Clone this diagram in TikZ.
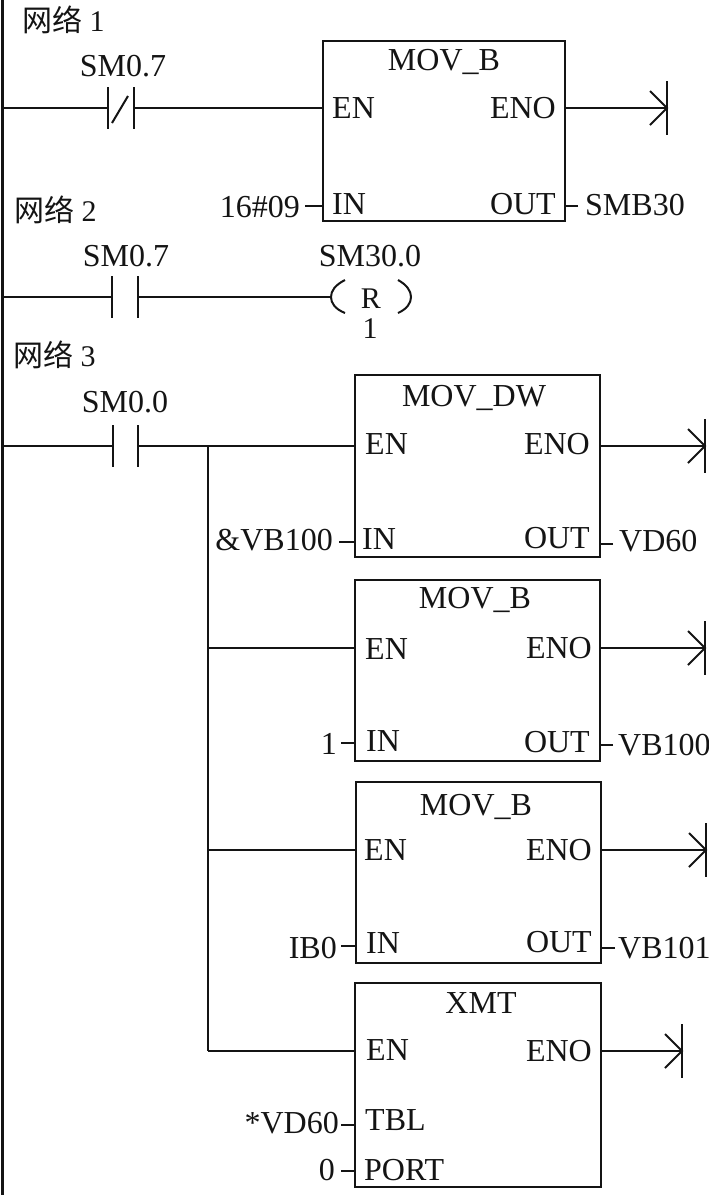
\documentclass[tikz,border=0pt]{standalone}
\usepackage{fontspec}
\setmainfont{Liberation Serif}
\newfontfamily\cjkfont{Noto Sans CJK SC}
\usepackage{xcolor}
\usetikzlibrary{positioning,calc}
\definecolor{Ink}{HTML}{141414}
\tikzset{
  wire/.style={draw=Ink,line width=2pt},
  rail/.style={draw=Ink,line width=2.4pt},
  box/.style={draw=Ink,line width=2.2pt,fill=white,inner sep=0pt,outer sep=0pt},
  lab/.style={text=Ink,inner sep=0pt,anchor=base,font=\fontsize{32}{36}\selectfont},
  labl/.style={lab,anchor=base west},
  labr/.style={lab,anchor=base east},
  net/.style={labl,font=\fontsize{30}{36}\selectfont}
}
\begin{document}
\begin{tikzpicture}[x=1pt,y=-1pt]
  \useasboundingbox (0,0) rectangle (709,1195);
  \coordinate (top) at (2.5,0);
  \coordinate (bottom) at (2.5,1195);
  \draw[rail] (top) -- (bottom);

  % blocks
  \node[box,minimum width=242pt,minimum height=180pt] (mova) at (444,131) {};
  \node[box,minimum width=245pt,minimum height=182pt] (movb) at (477.5,466) {};
  \node[box,minimum width=245pt,minimum height=181pt] (movc) at (477.5,670.5) {};
  \node[box,minimum width=245pt,minimum height=181pt] (movd) at (478.5,872.5) {};
  \node[box,minimum width=246pt,minimum height=204pt] (xmt) at (478,1085) {};

  % rung 1
  \node[net] (neta) at (22,31) {{\cjkfont 网络} 1};
  \node[lab] (sma) at (123,76) {SM0.7};
  \coordinate (cal) at (108,108);
  \coordinate (car) at (134,108);
  \draw[wire] (top |- cal) -- (cal);
  \draw[wire] (car) -- (car -| mova.west);
  \draw[wire] (cal) ++(0,-21) -- ++(0,42);
  \draw[wire] (car) ++(0,-21) -- ++(0,42);
  \draw[wire] (112,123) -- (128,96);
  \node[lab] at (444,70) {MOV\_B};
  \node[labl] at (332,118) {EN};
  \node[labr] at (556,118) {ENO};
  \node[labl] at (332,214) {IN};
  \node[labr] at (556,214) {OUT};
  \node[labr] at (300,217) {16\#09};
  \node[labl] at (585,215) {SMB30};
  \coordinate (ina) at (305,206);
  \coordinate (outa) at (578,206);
  \draw[wire] (ina) -- (ina -| mova.west);
  \draw[wire] (outa) -- (outa -| mova.east);

  % rung 2
  \node[net] (netb) at (14,221) {{\cjkfont 网络} 2};
  \node[lab] (smb) at (126,266) {SM0.7};
  \node[lab] (smc) at (370,266) {SM30.0};
  \coordinate (cbl) at (112,297);
  \coordinate (cbr) at (138,297);
  \coordinate (coil) at (331,297);
  \draw[wire] (top |- cbl) -- (cbl);
  \draw[wire] (cbr) -- (coil);
  \draw[wire] (cbl) ++(0,-21) -- ++(0,42);
  \draw[wire] (cbr) ++(0,-21) -- ++(0,42);
  \draw[wire] (345,280) .. controls (335,285) and (331,291) .. (coil) .. controls (331,303) and (335,309) .. (345,313);
  \draw[wire] (398,280) .. controls (407,285) and (411,291) .. (411,297) .. controls (411,303) and (407,309) .. (398,313);
  \node[lab,font=\fontsize{30}{32}\selectfont] at (371,308) {R};
  \node[lab,font=\fontsize{30}{32}\selectfont] at (370,338) {1};

  % rung 3
  \node[net] (netc) at (13,366) {{\cjkfont 网络} 3};
  \node[lab] (smd) at (125,412) {SM0.0};
  \coordinate (ccl) at (113,446);
  \coordinate (ccr) at (138,446);
  \coordinate (branch) at (208,446);
  \coordinate (brb) at (208,648);
  \coordinate (brc) at (208,850);
  \coordinate (brd) at (208,1051);
  \draw[wire] (top |- ccl) -- (ccl);
  \draw[wire] (ccr) -- (ccr -| movb.west);
  \draw[wire] (ccl) ++(0,-21) -- ++(0,42);
  \draw[wire] (ccr) ++(0,-21) -- ++(0,42);
  \draw[wire] (branch) -- (brd);
  \draw[wire] (brb) -- (brb -| movc.west);
  \draw[wire] (brc) -- (brc -| movd.west);
  \draw[wire] (brd) -- (brd -| xmt.west);

  % block texts
  \foreach \x/\y/\txt in {474/406/MOV\_DW,475/608/MOV\_B,476/815/MOV\_B,481/1013/XMT}
    \node[lab] at (\x,\y) {\txt};
  \foreach \x/\y/\txt in {365/454/EN,362/549/IN,365/659/EN,366/751/IN,364/860/EN,366/953/IN,
      366/1060/EN,365/1130/TBL,364/1180/PORT,619/551/VD60,618/755/VB100,618/958/VB101}
    \node[labl] at (\x,\y) {\txt};
  \foreach \x/\y/\txt in {590/454/ENO,590/548/OUT,333/550/\&VB100,592/658/ENO,590/752/OUT,337/754/1,
      592/860/ENO,592/952/OUT,337/958/IB0,592/1061/ENO,339/1133/*VD60,335/1180/0}
    \node[labr] at (\x,\y) {\txt};

  % pin stubs
  \foreach \name/\blk/\x/\y/\side in {inb/movb/339/542/west,outb/movb/613/544/east,inc/movc/341/743/west,
      outc/movc/613/745/east,ind/movd/341/946/west,outd/movd/615/948/east,
      tbl/xmt/341/1125/west,port/xmt/341/1171/west} {
    \coordinate (\name) at (\x,\y);
    \draw[wire] (\name) -- (\name -| \blk.\side);
  }

  % ENO outputs and their end marks
  \foreach \name/\blk/\x/\y in {enda/mova/667/108,endb/movb/705/446,endc/movc/705/648,endd/movd/706/850,ende/xmt/682/1051} {
    \coordinate (\name) at (\x,\y);
    \draw[wire] (\name -| \blk.east) -- (\name);
    \draw[wire] (\name) ++(0,-27) -- ++(0,54);
    \draw[wire] (\name) ++(-17,-17) -- (\name) -- ++(-17,17);
  }
\end{tikzpicture}
\end{document}
